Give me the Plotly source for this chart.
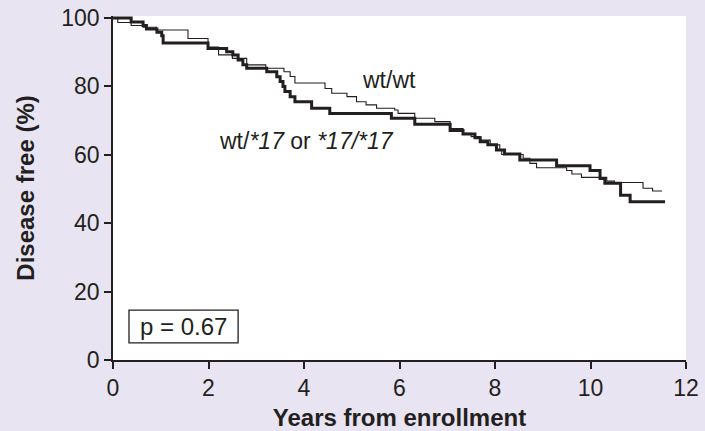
import plotly.graph_objects as go

# Kaplan-Meier step data
wt_wt_years = [0, 0.10, 0.38, 0.63, 0.91, 1.57, 1.99, 2.21, 2.50, 2.80, 3.20, 3.58, 3.71, 3.81,
               4.44, 4.58, 4.90, 5.10, 5.30, 5.52, 5.90, 5.97, 6.32, 6.74, 7.06, 7.33, 7.50,
               7.69, 7.90, 8.10, 8.14, 8.59, 8.73, 8.87, 9.50, 9.61, 9.81, 10.34, 10.50,
               11.10, 11.30, 11.50]
wt_wt_free = [100, 98.7, 97.8, 97.3, 96.5, 94.0, 91.5, 89.2, 88.2, 86.3, 85.3, 84.3, 82.9, 81.0,
              79.4, 78.0, 77.0, 75.5, 74.6, 73.6, 73.1, 72.1, 70.7, 69.7, 67.7, 66.3, 65.3,
              64.3, 62.9, 61.4, 60.1, 59.0, 57.5, 56.2, 55.4, 54.4, 53.4, 52.3, 51.9,
              50.2, 49.4, 49.4]

var17_years = [0, 0.38, 0.63, 0.70, 0.92, 1.02, 1.05, 1.99, 2.38, 2.51, 2.62, 2.72, 2.80,
               3.22, 3.43, 3.50, 3.56, 3.60, 3.71, 3.81, 4.16, 4.54, 5.83, 6.32, 7.06, 7.33,
               7.58, 7.69, 7.85, 8.03, 8.20, 8.52, 9.29, 9.99, 10.20, 10.30, 10.63, 10.83, 11.56]
var17_free = [100, 98.8, 97.8, 96.8, 95.8, 94.8, 92.7, 91.1, 90.1, 89.2, 87.7, 86.3, 85.3,
              84.3, 82.8, 81.4, 80.0, 78.5, 77.0, 75.5, 73.6, 72.1, 70.7, 68.9, 67.1, 66.1,
              65.0, 63.8, 62.9, 61.4, 60.2, 58.5, 56.8, 55.4, 53.1, 51.7, 48.2, 46.3, 46.3]

x_ticks = [0, 2, 4, 6, 8, 10, 12]
y_ticks = [0, 20, 40, 60, 80, 100]

INK = "#231f20"
FONT = "Liberation Sans, Arial, Helvetica, sans-serif"

fig = go.Figure()
fig.add_trace(go.Scatter(x=wt_wt_years, y=wt_wt_free, mode="lines", line_shape="hv",
                         line=dict(color=INK, width=1.1), name="wt/wt", showlegend=False))
fig.add_trace(go.Scatter(x=var17_years, y=var17_free, mode="lines", line_shape="hv",
                         line=dict(color=INK, width=3), name="wt/*17 or *17/*17", showlegend=False))

fig.add_annotation(x=5.77, y=81.9, text="wt/wt", showarrow=False,
                   font=dict(size=23, color=INK, family=FONT))
fig.add_annotation(x=4.06, y=64.0, text="wt/<i>*17</i> or <i>*17/*17</i>", showarrow=False,
                   font=dict(size=23, color=INK, family=FONT))
fig.add_shape(type="rect", x0=0.335, x1=2.62, y0=5.0, y1=14.6,
              line=dict(color=INK, width=1.3), fillcolor="white")
fig.add_annotation(x=1.48, y=9.9, text="p = 0.67", showarrow=False,
                   font=dict(size=24, color=INK, family=FONT))

fig.update_layout(
    width=705, height=431,
    margin=dict(l=113, r=19, t=16, b=71),
    paper_bgcolor="#e9e4f1", plot_bgcolor="white",
    font=dict(family=FONT, color=INK, size=23),
)
fig.update_xaxes(range=[0, 12], tickvals=x_ticks, ticks="outside", ticklen=7, tickwidth=1.5,
                 tickcolor=INK, showline=True, linecolor=INK, linewidth=1.5, showgrid=False,
                 zeroline=False, tickfont=dict(size=23), automargin=False,
                 title=dict(text="<b>Years from enrollment</b>", font=dict(size=24), standoff=9))
fig.update_yaxes(range=[0, 100.58], tickvals=y_ticks, ticks="outside", ticklen=7, tickwidth=1.5,
                 tickcolor=INK, showline=True, linecolor=INK, linewidth=1.5, showgrid=False,
                 zeroline=False, tickfont=dict(size=23), automargin=False,
                 title=dict(text="<b>Disease free (%)</b>", font=dict(size=24), standoff=20))

fig.write_html("out.html", config={"displayModeBar": False},
               post_script="document.body.style.margin='0';document.body.style.padding='0';")
